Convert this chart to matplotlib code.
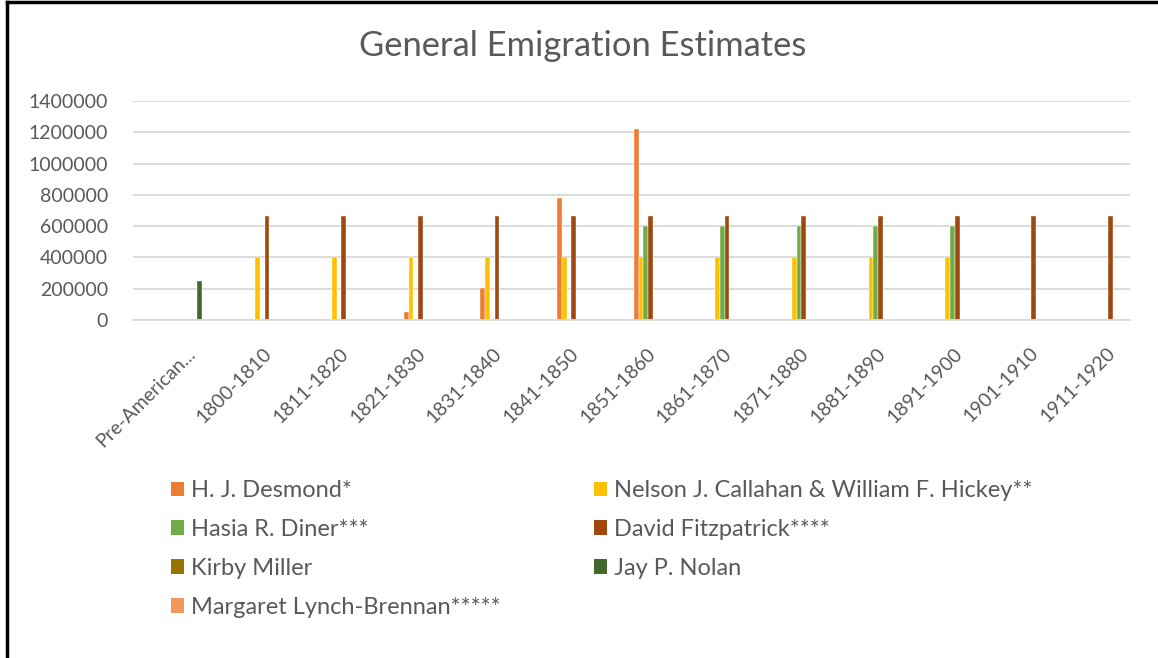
import numpy as np
import matplotlib
matplotlib.use("Agg")
import matplotlib.pyplot as plt
from matplotlib.lines import Line2D
from matplotlib.patches import Patch
from matplotlib.transforms import ScaledTranslation

plt.rcParams['font.family'] = ['Lato', 'DejaVu Sans']

categories = ['Pre-American...', '1800-1810', '1811-1820', '1821-1830', '1831-1840',
              '1841-1850', '1851-1860', '1861-1870', '1871-1880', '1881-1890',
              '1891-1900', '1901-1910', '1911-1920']

series_names = ['H. J. Desmond*', 'Nelson J. Callahan & William F. Hickey**',
                'Hasia R. Diner***', 'David Fitzpatrick****', 'Kirby Miller',
                'Jay P. Nolan', 'Margaret Lynch-Brennan*****']

desmond = [0, 0, 0, 50000, 205000, 780000, 1220000, 0, 0, 0, 0, 0, 0]
callahan = [0, 400000, 400000, 400000, 400000, 400000, 400000, 400000, 400000, 400000, 400000, 0, 0]
diner = [0, 0, 0, 0, 0, 0, 600000, 600000, 600000, 600000, 600000, 0, 0]
fitzpatrick = [0, 665000, 665000, 665000, 665000, 665000, 665000, 665000, 665000, 665000, 665000, 665000, 665000]
miller = [0] * 13
nolan = [250000, 0, 0, 0, 0, 0, 0, 0, 0, 0, 0, 0, 0]
lynch_brennan = [0] * 13

colors = ['#ED7D31', '#FFC000', '#70AD47', '#9E480E', '#997300', '#43682B', '#F1975A']
all_series = [desmond, callahan, diner, fitzpatrick, miller, nolan, lynch_brennan]

text_color = '#595959'
grid_color = '#D9D9D9'

fig = plt.figure(figsize=(11.58, 6.58), dpi=100)
ax = fig.add_axes([133 / 1158, 1 - 320 / 658, (1130 - 133) / 1158, (320 - 101) / 658])

x = np.arange(len(categories))
w = 0.0616
for i, (vals, c) in enumerate(zip(all_series, colors)):
    ax.bar(x + (i + 1) * w, vals, width=w, color=c, edgecolor='white', linewidth=0.3,
           label=series_names[i])

ax.set_xlim(-0.5, len(categories) - 0.5)
ax.set_ylim(0, 1400000)
ax.set_yticks(np.arange(0, 1400001, 200000))
ax.set_yticklabels([str(v) for v in range(0, 1400001, 200000)])
ax.yaxis.grid(True, color=grid_color, linewidth=1.3)
ax.set_axisbelow(True)
for s in ['top', 'right', 'left']:
    ax.spines[s].set_visible(False)
ax.spines['bottom'].set_color(grid_color)
ax.spines['bottom'].set_linewidth(1.3)
ax.tick_params(axis='both', length=0, colors=text_color, labelsize=14)
ax.tick_params(axis='y', pad=18)

ax.set_xticks(x)
ax.set_xticklabels(categories, rotation=45, ha='right', va='center', rotation_mode='anchor')
ax.tick_params(axis='x', pad=22)
off = ScaledTranslation(21 / 100, 0, fig.dpi_scale_trans)
for lab in ax.get_xticklabels():
    lab.set_transform(lab.get_transform() + off)

fig.text(0.5 * (360 + 806) / 1158, 1 - 46 / 658, 'General Emigration Estimates',
         ha='center', va='center', fontsize=24.8, color=text_color)

handles = [Patch(facecolor=c, edgecolor='none') for c in colors]
order = [0, 2, 4, 6, 1, 3, 5]
leg = fig.legend([handles[k] for k in order], [series_names[k] for k in order],
                 ncol=2, loc='upper left', bbox_to_anchor=(171 / 1158, 1 - 480 / 658),
                 frameon=False, fontsize=17, labelcolor=text_color,
                 borderpad=0, borderaxespad=0,
                 handlelength=0.55, handleheight=0.55, handletextpad=0.3,
                 labelspacing=0.76, columnspacing=3.95)

# outer border (left and top)
fig.add_artist(Line2D([7 / 1158, 7 / 1158], [0, 1 - 2 / 658], transform=fig.transFigure,
                      color='black', linewidth=2.5))
fig.add_artist(Line2D([7 / 1158, 1], [1 - 2 / 658, 1 - 2 / 658], transform=fig.transFigure,
                      color='black', linewidth=2.5))

fig.savefig('out.png', dpi=100, facecolor='white')
